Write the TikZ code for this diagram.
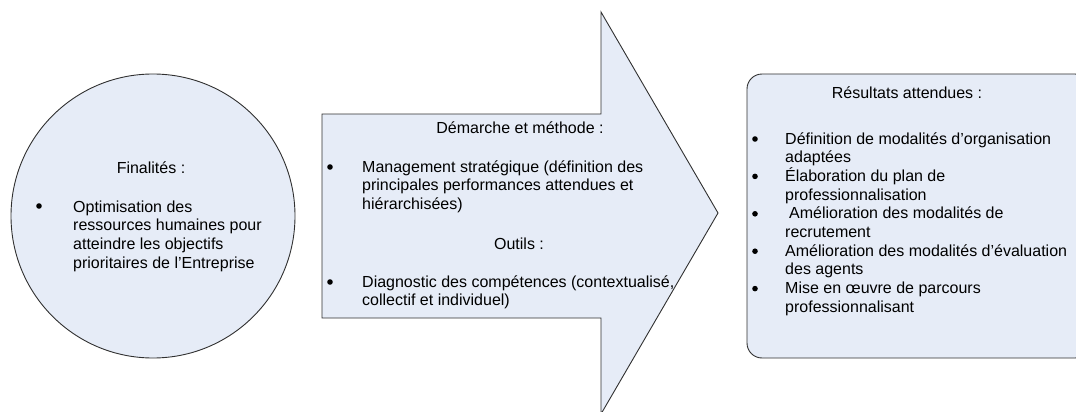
\documentclass[tikz,border=0pt]{standalone}
\usepackage{fontspec}
\setmainfont{Liberation Sans}
\definecolor{shapefill}{HTML}{E6ECF7}
\definecolor{shapeline}{HTML}{303030}
\begin{document}
\begin{tikzpicture}[x=1pt,y=-1pt,
  blob/.style={draw=shapeline,fill=shapefill,line width=0.9pt},
  txt/.style={anchor=base west,inner sep=0pt,font=\fontsize{16}{18.7}\selectfont},
  ctr/.style={anchor=base,inner sep=0pt,font=\fontsize{16}{18.7}\selectfont},
  bul/.style={circle,fill=black,minimum size=5.6pt,inner sep=0pt}]
\useasboundingbox (0,0) rectangle (1076,412);
\clip (0,0) rectangle (1076,412);
% circle
\node[blob,circle,minimum size=284pt,inner sep=0pt] (circ) at (153,216) {};
\node[ctr] (fin) at (151,173) {Finalités :};
\node[bul] (fb) at (39,206) {};
\node[txt] (f1) at (73,212) {Optimisation des};
\node[txt] (f2) at (73,230.7) {ressources humaines pour};
\node[txt] (f3) at (73,249.4) {atteindre les objectifs};
\node[txt] (f4) at (73,268.1) {prioritaires de l’Entreprise};
% arrow
\draw[blob] (322,114) -- (601,114) -- (601,12) -- (718,213) -- (601,414) -- (601,318) -- (322,318) -- cycle;
\node[ctr] (dem) at (520,133) {Démarche et méthode :};
\node[bul] (ab1) at (330,167) {};
\node[txt] (a1) at (362,172) {Management stratégique (définition des};
\node[txt] (a2) at (362,190.7) {principales performances attendues et};
\node[txt] (a3) at (362,209.4) {hiérarchisées)};
\node[ctr] (out) at (519,249) {Outils :};
\node[bul] (ab2) at (330,282) {};
\node[txt] (a4) at (362,287) {Diagnostic des compétences (contextualisé,};
\node[txt] (a5) at (362,305.7) {collectif et individuel)};
% rounded box
\draw[blob,rounded corners=15pt] (747,74) rectangle (1090,358);
\node[ctr] (res) at (907,98) {Résultats attendues :};
\node[bul] (rb1) at (755,139) {};
\node[txt] (r1) at (785,144) {Définition de modalités d’organisation};
\node[txt] (r2) at (785,162.7) {adaptées};
\node[bul] (rb2) at (755,176.4) {};
\node[txt] (r3) at (785,181.4) {Élaboration du plan de};
\node[txt] (r4) at (785,200.1) {professionnalisation};
\node[bul] (rb3) at (755,213.8) {};
\node[txt] (r5) at (785,218.8) {\hspace{4pt}Amélioration des modalités de};
\node[txt] (r6) at (785,237.5) {recrutement};
\node[bul] (rb4) at (755,251.2) {};
\node[txt] (r7) at (785,256.2) {Amélioration des modalités d’évaluation};
\node[txt] (r8) at (785,274.9) {des agents};
\node[bul] (rb5) at (755,288.6) {};
\node[txt] (r9) at (785,293.6) {Mise en œuvre de parcours};
\node[txt] (r10) at (785,312.3) {professionnalisant};
\end{tikzpicture}
\end{document}
